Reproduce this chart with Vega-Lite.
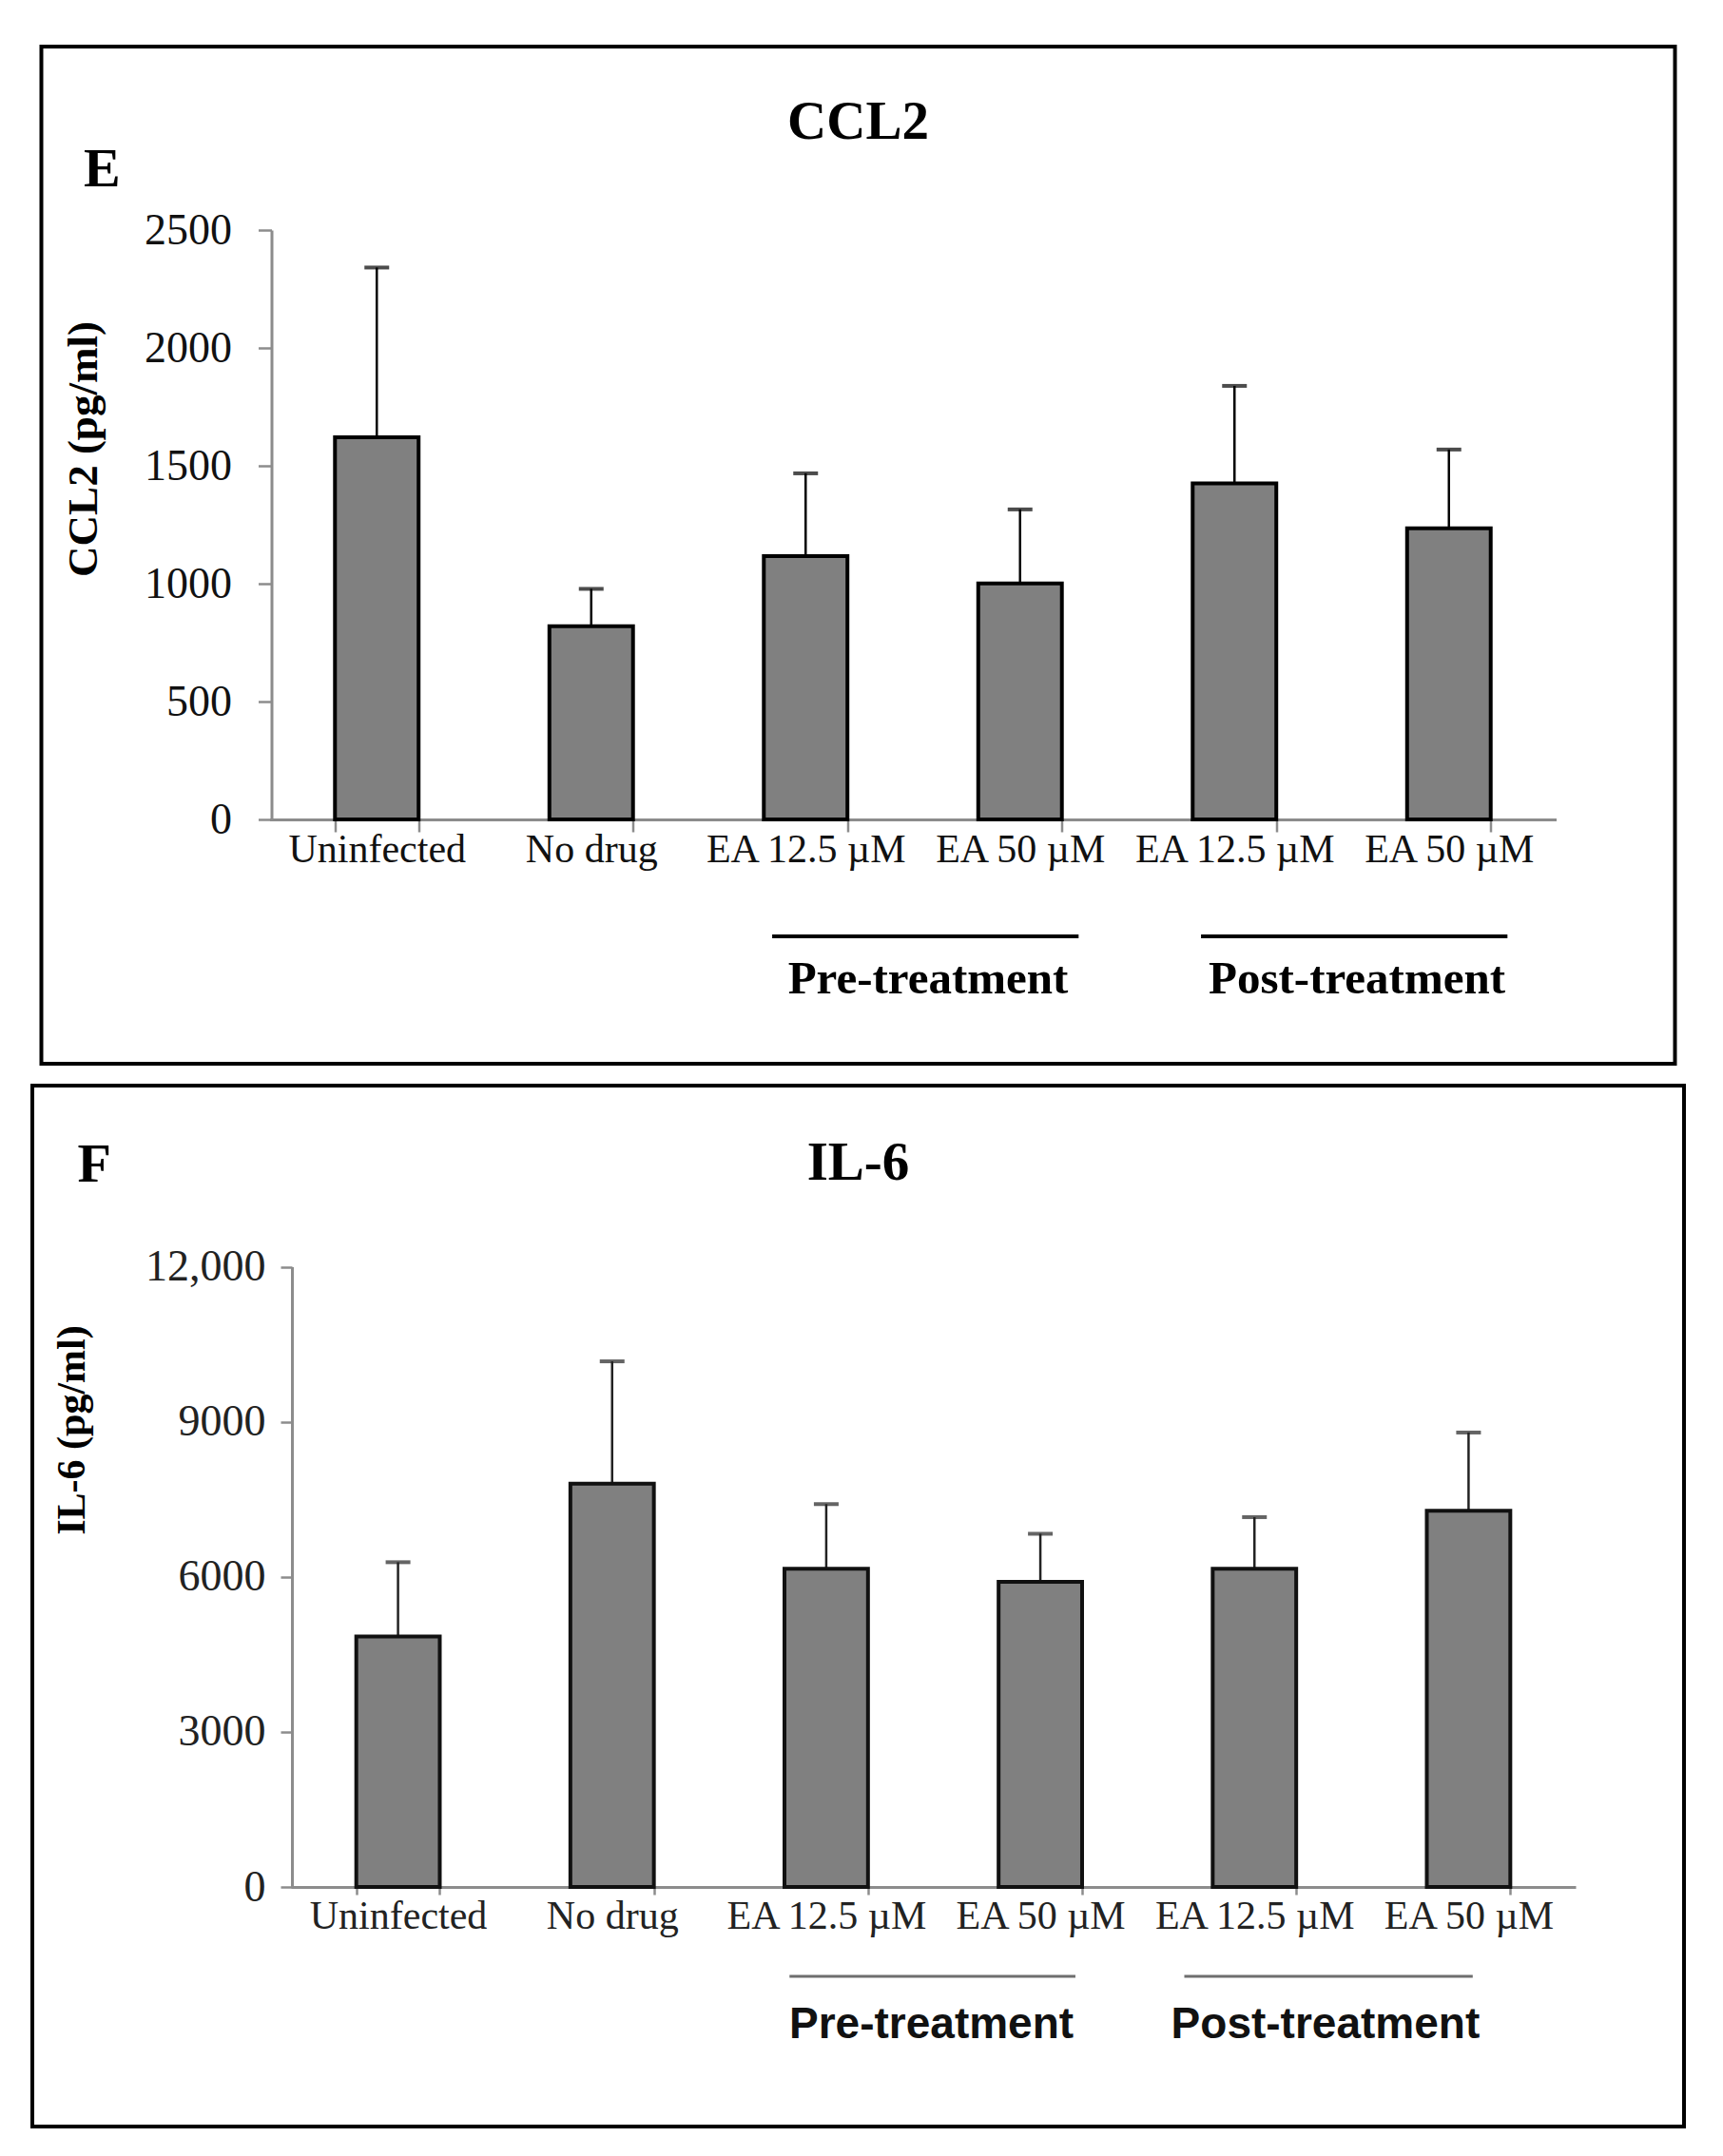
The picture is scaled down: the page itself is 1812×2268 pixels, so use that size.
{
  "$schema": "https://vega.github.io/schema/vega-lite/v6.json",
  "padding": {"left": 32, "top": 47, "right": 0, "bottom": 0},
  "background": "white",
  "config": {
    "view": {"stroke": "#000", "strokeWidth": 4},
    "font": "Liberation Serif",
    "axis": {"grid": false}
  },
  "datasets": {
    "ccl2": [
      {"key": "Uninfected", "value": 1621, "upper": 2341},
      {"key": "No drug", "value": 820, "upper": 978},
      {"key": "EA 12.5 µM|pre", "value": 1117, "upper": 1468},
      {"key": "EA 50 µM|pre", "value": 1001, "upper": 1315},
      {"key": "EA 12.5 µM|post", "value": 1425, "upper": 1839},
      {"key": "EA 50 µM|post", "value": 1235, "upper": 1569}
    ],
    "il6": [
      {"key": "Uninfected", "value": 4848, "upper": 6283},
      {"key": "No drug", "value": 7804, "upper": 10169},
      {"key": "EA 12.5 µM|pre", "value": 6158, "upper": 7407},
      {"key": "EA 50 µM|pre", "value": 5904, "upper": 6833},
      {"key": "EA 12.5 µM|post", "value": 6158, "upper": 7155},
      {"key": "EA 50 µM|post", "value": 7280, "upper": 8792}
    ],
    "groups": [
      {"group": "Pre-treatment", "from": "EA 12.5 µM|pre", "to": "EA 50 µM|pre"},
      {"group": "Post-treatment", "from": "EA 12.5 µM|post", "to": "EA 50 µM|post"}
    ]
  },
  "spacing": 19,
  "center": true,
  "vconcat": [
    {
      "width": 1718,
      "height": 1070,
      "title": {"text": "CCL2", "font": "Liberation Serif", "fontWeight": "bold", "fontSize": 57, "color": "#000", "offset": -109, "anchor": "middle", "frame": "group"},
      "data": {"name": "ccl2"},
      "encoding": {
        "x": {
          "field": "key", "type": "nominal", "sort": null,
          "scale": {"domain": ["Uninfected", "No drug", "EA 12.5 µM|pre", "EA 50 µM|pre", "EA 12.5 µM|post", "EA 50 µM|post"], "range": [240, 1593], "paddingInner": 0.61, "paddingOuter": 0.305},
          "axis": {
            "title": "E", "titleX": 44, "titleY": -667, "titleAlign": "left", "titleBaseline": "alphabetic", "titleFontSize": 58, "titleFontWeight": "bold", "titleFont": "Liberation Serif", "titleColor": "#000",
            "offset": -257, "labelExpr": "split(datum.label, '|')[0]", "labelAngle": 0, "labelFontSize": 42, "labelColor": "#111", "labelFont": "Liberation Serif", "labelPadding": -2, "labelLimit": 0, "labelOverlap": false,
            "tickSize": 13, "tickColor": "#8c8c8c", "tickWidth": 2.5, "domainColor": "#8c8c8c", "domainWidth": 3, "tickBand": "extent"
          }
        }
      },
      "layer": [
        {
          "mark": {"type": "rule", "color": "#000", "strokeWidth": 2.5},
          "encoding": {
            "y": {
              "field": "upper", "type": "quantitative",
              "scale": {"domain": [0, 2500], "range": [813, 193], "nice": false, "zero": false},
              "axis": {
                "title": "CCL2 (pg/ml)", "titleX": -198, "titleY": 423, "titleAlign": "center", "titleBaseline": "middle", "titleFontSize": 45, "titleFontWeight": "bold", "titleColor": "#000", "titleFont": "Liberation Serif", "titleLimit": 0,
                "offset": -242, "values": [0, 500, 1000, 1500, 2000, 2500], "format": "d", "labelFontSize": 46, "labelColor": "#111", "labelFont": "Liberation Serif", "labelPadding": 28,
                "tickSize": 14, "tickColor": "#8c8c8c", "tickWidth": 2.5, "domainColor": "#8c8c8c", "domainWidth": 3
              }
            },
            "y2": {"field": "value"}
          }
        },
        {
          "mark": {"type": "tick", "color": "#000", "size": 26, "thickness": 4},
          "encoding": {"y": {"field": "upper", "type": "quantitative"}}
        },
        {
          "mark": {"type": "bar", "fill": "#808080", "stroke": "#000", "strokeWidth": 4},
          "encoding": {"y": {"field": "value", "type": "quantitative"}}
        },
        {
          "data": {"name": "groups"},
          "mark": {"type": "rule", "color": "#000", "strokeWidth": 4},
          "encoding": {
            "x": {"field": "from", "type": "nominal", "bandPosition": 0.1},
            "x2": {"field": "to", "bandPosition": 1.2},
            "y": {"datum": -496, "type": "quantitative"}
          }
        },
        {
          "data": {"name": "groups"},
          "mark": {"type": "text", "font": "Liberation Serif", "fontWeight": "bold", "fontSize": 49, "color": "#000", "align": "center", "baseline": "alphabetic"},
          "encoding": {
            "x": {"field": "to", "type": "nominal", "bandPosition": -0.6},
            "y": {"datum": -738, "type": "quantitative"},
            "text": {"field": "group"}
          }
        }
      ]
    },
    {
      "width": 1737,
      "height": 1095,
      "title": {"text": "IL-6", "font": "Liberation Serif", "fontWeight": "bold", "fontSize": 57, "color": "#000", "offset": -111, "anchor": "middle", "frame": "group"},
      "data": {"name": "il6"},
      "encoding": {
        "x": {
          "field": "key", "type": "nominal", "sort": null,
          "scale": {"domain": ["Uninfected", "No drug", "EA 12.5 µM|pre", "EA 50 µM|pre", "EA 12.5 µM|post", "EA 50 µM|post"], "range": [272, 1623], "paddingInner": 0.61, "paddingOuter": 0.305},
          "axis": {
            "title": "F", "titleX": 47, "titleY": -743, "titleAlign": "left", "titleBaseline": "alphabetic", "titleFontSize": 58, "titleFontWeight": "bold", "titleFont": "Liberation Serif", "titleColor": "#000",
            "offset": -252, "labelExpr": "split(datum.label, '|')[0]", "labelAngle": 0, "labelFontSize": 42, "labelColor": "#222", "labelFont": "Liberation Serif", "labelPadding": 2, "labelLimit": 0, "labelOverlap": false,
            "tickSize": 8, "tickColor": "#8c8c8c", "tickWidth": 2.5, "domainColor": "#8c8c8c", "domainWidth": 3, "tickBand": "extent"
          }
        }
      },
      "layer": [
        {
          "mark": {"type": "rule", "color": "#222", "strokeWidth": 2.5},
          "encoding": {
            "y": {
              "field": "upper", "type": "quantitative",
              "scale": {"domain": [0, 12000], "range": [843, 190.5], "nice": false, "zero": false},
              "axis": {
                "title": "IL-6 (pg/ml)", "titleX": -232, "titleY": 362, "titleAlign": "center", "titleBaseline": "middle", "titleFontSize": 42, "titleFontWeight": "bold", "titleColor": "#000", "titleFont": "Liberation Serif", "titleLimit": 0,
                "offset": -273, "values": [0, 3000, 6000, 9000, 12000], "labelExpr": "datum.value >= 10000 ? format(datum.value, ',') : format(datum.value, 'd')", "labelFontSize": 46, "labelColor": "#222", "labelFont": "Liberation Serif", "labelPadding": 16,
                "tickSize": 12, "tickColor": "#8c8c8c", "tickWidth": 2.5, "domainColor": "#8c8c8c", "domainWidth": 3
              }
            },
            "y2": {"field": "value"}
          }
        },
        {
          "mark": {"type": "tick", "color": "#222", "size": 26, "thickness": 4},
          "encoding": {"y": {"field": "upper", "type": "quantitative"}}
        },
        {
          "mark": {"type": "bar", "fill": "#808080", "stroke": "#111", "strokeWidth": 4},
          "encoding": {"y": {"field": "value", "type": "quantitative"}}
        },
        {
          "data": {"name": "groups"},
          "transform": [{"filter": "datum.group == 'Pre-treatment'"}],
          "mark": {"type": "rule", "color": "#6e6e6e", "strokeWidth": 3},
          "encoding": {
            "x": {"field": "from", "type": "nominal", "bandPosition": 0.06},
            "x2": {"field": "to", "bandPosition": 0.92},
            "y": {"datum": -1729, "type": "quantitative"}
          }
        },
        {
          "data": {"name": "groups"},
          "transform": [{"filter": "datum.group == 'Post-treatment'"}],
          "mark": {"type": "rule", "color": "#6e6e6e", "strokeWidth": 3},
          "encoding": {
            "x": {"field": "from", "type": "nominal", "bandPosition": -0.34},
            "x2": {"field": "to", "bandPosition": 0.55},
            "y": {"datum": -1729, "type": "quantitative"}
          }
        },
        {
          "data": {"name": "groups"},
          "transform": [{"filter": "datum.group == 'Pre-treatment'"}],
          "mark": {"type": "text", "font": "Liberation Sans", "fontWeight": "bold", "fontSize": 46, "color": "#111", "align": "center", "baseline": "alphabetic"},
          "encoding": {
            "x": {"field": "from", "type": "nominal", "bandPosition": 1.76},
            "y": {"datum": -2924, "type": "quantitative"},
            "text": {"field": "group"}
          }
        },
        {
          "data": {"name": "groups"},
          "transform": [{"filter": "datum.group == 'Post-treatment'"}],
          "mark": {"type": "text", "font": "Liberation Sans", "fontWeight": "bold", "fontSize": 46, "color": "#111", "align": "center", "baseline": "alphabetic"},
          "encoding": {
            "x": {"field": "from", "type": "nominal", "bandPosition": 1.35},
            "y": {"datum": -2924, "type": "quantitative"},
            "text": {"field": "group"}
          }
        }
      ]
    }
  ]
}
